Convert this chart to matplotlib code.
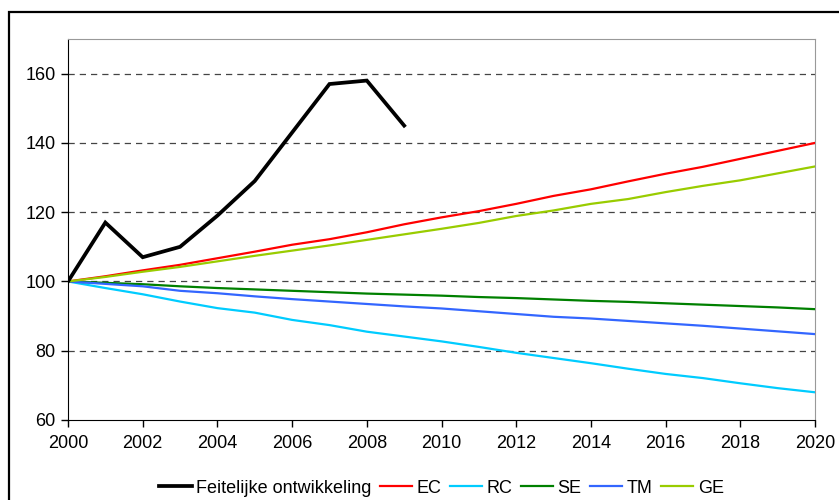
import matplotlib
matplotlib.use("Agg")
import matplotlib.pyplot as plt
from matplotlib.patches import Rectangle

plt.rcParams["font.family"] = ["Liberation Sans", "DejaVu Sans"]

W, H = 839, 500

years_actual = [2000, 2001, 2002, 2003, 2004, 2005, 2006, 2007, 2008, 2009]
actual = [100, 117, 107, 110, 119, 129, 143, 157, 158, 145]

years = list(range(2000, 2021))
ec = [100, 101.5, 103.2, 104.8, 106.7, 108.6, 110.6, 112.2, 114.2, 116.5, 118.5,
      120.3, 122.4, 124.7, 126.6, 128.9, 131.1, 133.1, 135.4, 137.7, 140.0]
rc = [100, 98.1, 96.3, 94.2, 92.3, 91.0, 88.9, 87.4, 85.5, 84.1, 82.7,
      81.1, 79.4, 77.9, 76.4, 74.8, 73.3, 72.1, 70.6, 69.2, 68.0]
se = [100, 99.6, 99.2, 98.6, 98.1, 97.7, 97.3, 96.9, 96.5, 96.2, 95.9,
      95.5, 95.2, 94.8, 94.4, 94.1, 93.7, 93.3, 92.9, 92.5, 92.0]
tm = [100, 99.3, 98.6, 97.3, 96.6, 95.7, 94.9, 94.2, 93.5, 92.8, 92.2,
      91.4, 90.6, 89.8, 89.3, 88.6, 87.9, 87.2, 86.4, 85.6, 84.8]
ge = [100, 101.3, 102.8, 104.2, 105.8, 107.4, 108.9, 110.4, 112.0, 113.6, 115.2,
      116.9, 118.9, 120.5, 122.4, 123.8, 125.8, 127.6, 129.2, 131.2, 133.2]

series = [
    ("EC", ec, "#FF0000"),
    ("RC", rc, "#00CCFF"),
    ("SE", se, "#008000"),
    ("TM", tm, "#3366FF"),
    ("GE", ge, "#99CC00"),
]

fig = plt.figure(figsize=(W / 100, H / 100), dpi=100)
ax = fig.add_axes([68 / W, 1 - 420 / H, (815 - 68) / W, (420 - 39) / H])

# outer chart border (runs off the right and bottom edge)
fig.patches.append(Rectangle((9 / W, -0.05), 1.0, 1 - 12 / H + 0.05,
                             transform=fig.transFigure, fill=False,
                             edgecolor="black", linewidth=1.6))

ax.plot(years_actual, actual, color="black", linewidth=2.7,
        label="Feitelijke ontwikkeling", solid_joinstyle="miter", zorder=5)
for name, vals, col in series:
    ax.plot(years, vals, color=col, linewidth=1.6, label=name, zorder=4)

ax.set_xlim(2000, 2020)
ax.set_ylim(60, 170)
ax.set_xticks(range(2000, 2021, 2))
ax.set_yticks(range(60, 161, 20))
for y in range(80, 161, 20):
    ax.axhline(y, color="#444444", linewidth=0.9, linestyle=(0, (5, 4)), zorder=1)

ax.tick_params(axis="both", direction="out", length=5, width=1, labelsize=13,
               colors="black")
ax.tick_params(axis="x", pad=6)
ax.tick_params(axis="y", pad=4)
ax.spines["left"].set_color("black")
ax.spines["bottom"].set_color("black")
ax.spines["top"].set_color("#999999")
ax.spines["right"].set_color("#999999")

ax.legend(loc="center", bbox_to_anchor=(0.5, -0.179), ncol=6, frameon=False,
          fontsize=13, handlelength=1.8, handletextpad=0.25,
          columnspacing=0.45, borderaxespad=0)

fig.savefig("out.png", dpi=100)
